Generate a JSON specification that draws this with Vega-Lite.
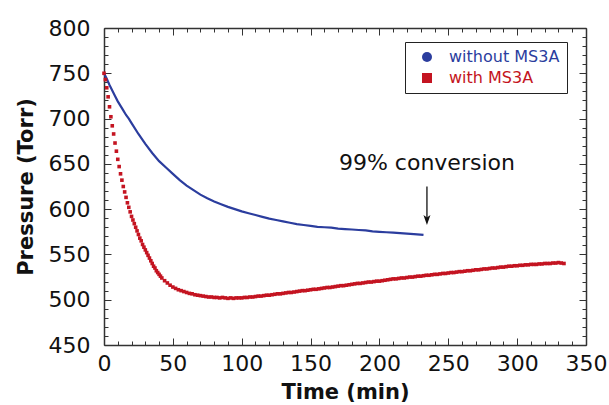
{
  "$schema": "https://vega.github.io/schema/vega-lite/v6.json",
  "width": 482,
  "height": 317,
  "autosize": "none",
  "padding": {"left": 104, "top": 28, "right": 23, "bottom": 60},
  "background": "white",
  "config": {
    "view": {"stroke": null},
    "font": "DejaVu Sans",
    "axis": {
      "domainColor": "#333333",
      "domainWidth": 1.5,
      "tickColor": "#333333",
      "tickWidth": 1,
      "grid": false,
      "labelFont": "DejaVu Sans",
      "labelFontSize": 22,
      "labelColor": "#111111",
      "titleFont": "DejaVu Sans",
      "titleFontSize": 21,
      "titleFontWeight": "bold",
      "titleColor": "#111111",
      "labelFlush": false,
      "labelOverlap": false
    }
  },
  "datasets": {
    "blue": [
      {"t": 0, "p": 750}, {"t": 2, "p": 744}, {"t": 4, "p": 737}, {"t": 6, "p": 731}, {"t": 8, "p": 725},
      {"t": 10, "p": 719}, {"t": 12, "p": 714}, {"t": 14, "p": 709}, {"t": 16, "p": 704}, {"t": 18, "p": 700},
      {"t": 20, "p": 695}, {"t": 25, "p": 683}, {"t": 30, "p": 672}, {"t": 35, "p": 662}, {"t": 40, "p": 653},
      {"t": 45, "p": 646}, {"t": 50, "p": 639}, {"t": 55, "p": 632}, {"t": 60, "p": 626}, {"t": 65, "p": 621},
      {"t": 70, "p": 616}, {"t": 75, "p": 612}, {"t": 80, "p": 608.5}, {"t": 85, "p": 605.5}, {"t": 90, "p": 602.5},
      {"t": 95, "p": 600}, {"t": 100, "p": 597.5}, {"t": 105, "p": 595.5}, {"t": 110, "p": 593.5}, {"t": 115, "p": 591.5},
      {"t": 120, "p": 589.5}, {"t": 125, "p": 588}, {"t": 130, "p": 586.5}, {"t": 135, "p": 585}, {"t": 140, "p": 583.5},
      {"t": 145, "p": 582.5}, {"t": 150, "p": 581.5}, {"t": 155, "p": 580.5}, {"t": 160, "p": 580}, {"t": 165, "p": 579.5},
      {"t": 170, "p": 578.5}, {"t": 175, "p": 578}, {"t": 180, "p": 577.5}, {"t": 185, "p": 577}, {"t": 190, "p": 576.5},
      {"t": 195, "p": 575.5}, {"t": 200, "p": 575}, {"t": 205, "p": 574.5}, {"t": 210, "p": 574}, {"t": 215, "p": 573.5},
      {"t": 220, "p": 573}, {"t": 225, "p": 572.5}, {"t": 232, "p": 571.5}
    ],
    "red": [
      {"t": 0, "p": 750}, {"t": 1, "p": 743}, {"t": 2, "p": 734}, {"t": 3, "p": 724}, {"t": 4, "p": 713},
      {"t": 5, "p": 702}, {"t": 6, "p": 692}, {"t": 7, "p": 683}, {"t": 8, "p": 673}, {"t": 9, "p": 664},
      {"t": 10, "p": 655}, {"t": 11, "p": 647}, {"t": 12, "p": 639}, {"t": 13, "p": 632}, {"t": 14, "p": 625},
      {"t": 15, "p": 619}, {"t": 16, "p": 613}, {"t": 17, "p": 607}, {"t": 18, "p": 602}, {"t": 19, "p": 597},
      {"t": 20, "p": 592}, {"t": 21, "p": 588}, {"t": 22, "p": 584}, {"t": 23, "p": 580}, {"t": 24, "p": 576},
      {"t": 25, "p": 572}, {"t": 26, "p": 568}, {"t": 27, "p": 565}, {"t": 28, "p": 561}, {"t": 29, "p": 558},
      {"t": 30, "p": 555}, {"t": 31, "p": 552}, {"t": 32, "p": 549}, {"t": 33, "p": 546}, {"t": 34, "p": 543},
      {"t": 35, "p": 540}, {"t": 36, "p": 537}, {"t": 37, "p": 535}, {"t": 38, "p": 532}, {"t": 39, "p": 530},
      {"t": 40, "p": 528}, {"t": 41, "p": 526}, {"t": 42, "p": 524}, {"t": 44, "p": 521}, {"t": 46, "p": 518.5},
      {"t": 48, "p": 516}, {"t": 50, "p": 514}, {"t": 52, "p": 512.5}, {"t": 54, "p": 511}, {"t": 56, "p": 510},
      {"t": 58, "p": 509}, {"t": 60, "p": 508}, {"t": 62, "p": 507}, {"t": 64, "p": 506.5}, {"t": 66, "p": 505.5},
      {"t": 68, "p": 505}, {"t": 70, "p": 504.5}, {"t": 72, "p": 504}, {"t": 74, "p": 503.5}, {"t": 76, "p": 503},
      {"t": 78, "p": 503}, {"t": 80, "p": 502.5}, {"t": 82, "p": 502.5}, {"t": 84, "p": 502}, {"t": 86, "p": 502.5},
      {"t": 88, "p": 502}, {"t": 90, "p": 501.5}, {"t": 92, "p": 502}, {"t": 94, "p": 501.5}, {"t": 96, "p": 502},
      {"t": 98, "p": 502}, {"t": 100, "p": 502}, {"t": 102, "p": 502.5}, {"t": 104, "p": 502.5}, {"t": 106, "p": 503},
      {"t": 108, "p": 503}, {"t": 110, "p": 503.5}, {"t": 112, "p": 504}, {"t": 114, "p": 504}, {"t": 116, "p": 504.5},
      {"t": 118, "p": 505}, {"t": 120, "p": 505}, {"t": 122, "p": 505.5}, {"t": 124, "p": 506}, {"t": 126, "p": 506.5},
      {"t": 128, "p": 506.5}, {"t": 130, "p": 507}, {"t": 132, "p": 507.5}, {"t": 134, "p": 508}, {"t": 136, "p": 508},
      {"t": 138, "p": 508.5}, {"t": 140, "p": 509}, {"t": 142, "p": 509.5}, {"t": 144, "p": 510}, {"t": 146, "p": 510},
      {"t": 148, "p": 510.5}, {"t": 150, "p": 511}, {"t": 152, "p": 511.5}, {"t": 154, "p": 511.5}, {"t": 156, "p": 512},
      {"t": 158, "p": 512.5}, {"t": 160, "p": 513}, {"t": 162, "p": 513.5}, {"t": 164, "p": 513.5}, {"t": 166, "p": 514},
      {"t": 168, "p": 514.5}, {"t": 170, "p": 515}, {"t": 172, "p": 515.5}, {"t": 174, "p": 515.5}, {"t": 176, "p": 516},
      {"t": 178, "p": 516.5}, {"t": 180, "p": 517}, {"t": 182, "p": 517.5}, {"t": 184, "p": 518}, {"t": 186, "p": 518},
      {"t": 188, "p": 518.5}, {"t": 190, "p": 519}, {"t": 192, "p": 519.5}, {"t": 194, "p": 519.5}, {"t": 196, "p": 520},
      {"t": 198, "p": 520.5}, {"t": 200, "p": 520.5}, {"t": 202, "p": 521}, {"t": 204, "p": 521.5}, {"t": 206, "p": 522},
      {"t": 208, "p": 522.5}, {"t": 210, "p": 523}, {"t": 212, "p": 523}, {"t": 214, "p": 523.5}, {"t": 216, "p": 524},
      {"t": 218, "p": 524}, {"t": 220, "p": 524.5}, {"t": 222, "p": 525}, {"t": 224, "p": 525}, {"t": 226, "p": 525.5},
      {"t": 228, "p": 526}, {"t": 230, "p": 526}, {"t": 232, "p": 526.5}, {"t": 234, "p": 527}, {"t": 236, "p": 527},
      {"t": 238, "p": 527.5}, {"t": 240, "p": 528}, {"t": 242, "p": 528}, {"t": 244, "p": 528.5}, {"t": 246, "p": 529},
      {"t": 248, "p": 529}, {"t": 250, "p": 529.5}, {"t": 252, "p": 530}, {"t": 254, "p": 530}, {"t": 256, "p": 530.5},
      {"t": 258, "p": 531}, {"t": 260, "p": 531}, {"t": 262, "p": 531.5}, {"t": 264, "p": 532}, {"t": 266, "p": 532},
      {"t": 268, "p": 532.5}, {"t": 270, "p": 533}, {"t": 272, "p": 533}, {"t": 274, "p": 533.5}, {"t": 276, "p": 534},
      {"t": 278, "p": 534}, {"t": 280, "p": 534.5}, {"t": 282, "p": 535}, {"t": 284, "p": 535}, {"t": 286, "p": 535.5},
      {"t": 288, "p": 536}, {"t": 290, "p": 536}, {"t": 292, "p": 536.5}, {"t": 294, "p": 537}, {"t": 296, "p": 537},
      {"t": 298, "p": 537.5}, {"t": 300, "p": 537.5}, {"t": 302, "p": 538}, {"t": 304, "p": 538}, {"t": 306, "p": 538.5},
      {"t": 308, "p": 538.5}, {"t": 310, "p": 539}, {"t": 312, "p": 539}, {"t": 314, "p": 539}, {"t": 316, "p": 539.5},
      {"t": 318, "p": 539.5}, {"t": 320, "p": 540}, {"t": 322, "p": 540}, {"t": 324, "p": 540}, {"t": 326, "p": 540.5},
      {"t": 328, "p": 540.5}, {"t": 330, "p": 541}, {"t": 332, "p": 540.5}, {"t": 334, "p": 540}
    ],
    "note": [
      {"t": 234.5, "p": 643, "ptop": 625, "pbot": 590, "ptip": 588, "label": "99% conversion"}
    ]
  },
  "layer": [
    {
      "data": {"name": "blue"},
      "mark": {"type": "line", "color": "#2b3d9e", "strokeWidth": 2.2},
      "encoding": {
        "x": {
          "field": "t", "type": "quantitative",
          "scale": {"domain": [0, 350], "nice": false, "zero": false},
          "axis": {
            "orient": "top", "title": null, "labels": false,
            "values": [0,10,20,30,40,50,60,70,80,90,100,110,120,130,140,150,160,170,180,190,200,210,220,230,240,250,260,270,280,290,300,310,320,330,340,350],
            "tickSize": {"condition": {"test": "datum.value % 50 === 0", "value": -7}, "value": -4}
          }
        },
        "y": {
          "field": "p", "type": "quantitative",
          "scale": {"domain": [450, 800], "nice": false, "zero": false},
          "axis": {
            "orient": "right", "title": null, "labels": false,
            "values": [450,460,470,480,490,500,510,520,530,540,550,560,570,580,590,600,610,620,630,640,650,660,670,680,690,700,710,720,730,740,750,760,770,780,790,800],
            "tickSize": {"condition": {"test": "datum.value % 50 === 0", "value": -7}, "value": -4}
          }
        }
      }
    },
    {
      "data": {"name": "red"},
      "mark": {"type": "point", "filled": true, "size": 13, "opacity": 1, "color": "#c41421", "shape": "square"},
      "encoding": {
        "x": {
          "field": "t", "type": "quantitative",
          "scale": {"domain": [0, 350], "nice": false, "zero": false},
          "axis": {
            "orient": "bottom", "title": "Time (min)",
            "values": [0,10,20,30,40,50,60,70,80,90,100,110,120,130,140,150,160,170,180,190,200,210,220,230,240,250,260,270,280,290,300,310,320,330,340,350],
            "labelExpr": "datum.value % 50 === 0 ? datum.label : ''",
            "tickSize": {"condition": {"test": "datum.value % 50 === 0", "value": -7}, "value": -4},
            "labelPadding": 15,
            "titlePadding": 4
          }
        },
        "y": {
          "field": "p", "type": "quantitative",
          "scale": {"domain": [450, 800], "nice": false, "zero": false},
          "axis": {
            "orient": "left", "title": "Pressure (Torr)",
            "values": [450,460,470,480,490,500,510,520,530,540,550,560,570,580,590,600,610,620,630,640,650,660,670,680,690,700,710,720,730,740,750,760,770,780,790,800],
            "labelExpr": "datum.value % 50 === 0 ? datum.label : ''",
            "tickSize": {"condition": {"test": "datum.value % 50 === 0", "value": -7}, "value": -4},
            "labelPadding": 21,
            "titlePadding": 12
          }
        }
      }
    },
    {
      "data": {"values": []},
      "mark": {"type": "point", "filled": true, "size": 60, "opacity": 1},
      "encoding": {
        "color": {
          "datum": "with MS3A", "type": "nominal",
          "scale": {"domain": ["without MS3A", "with MS3A"], "range": ["#2b3d9e", "#c41421"]},
          "legend": {
            "orient": "none", "legendX": 301, "legendY": 14, "title": null,
            "strokeColor": "#222222", "fillColor": "white", "padding": 7,
            "symbolOffset": 7, "labelOffset": 14,
            "labelFont": "DejaVu Sans", "labelFontSize": 16, "rowPadding": 5,
            "labelColor": {"expr": "datum.label === 'with MS3A' ? '#c41421' : '#2b3d9e'"}
          }
        },
        "shape": {
          "datum": "with MS3A", "type": "nominal",
          "scale": {"domain": ["without MS3A", "with MS3A"], "range": ["circle", "square"]},
          "legend": {
            "orient": "none", "legendX": 301, "legendY": 14, "title": null,
            "strokeColor": "#222222", "fillColor": "white", "padding": 7,
            "symbolOffset": 7, "labelOffset": 14,
            "labelFont": "DejaVu Sans", "labelFontSize": 16, "rowPadding": 5,
            "labelColor": {"expr": "datum.label === 'with MS3A' ? '#c41421' : '#2b3d9e'"}
          }
        }
      }
    },
    {
      "data": {"name": "note"},
      "mark": {"type": "text", "font": "DejaVu Sans", "fontSize": 22, "align": "center", "baseline": "alphabetic", "color": "#111111"},
      "encoding": {
        "x": {"field": "t", "type": "quantitative", "axis": null},
        "y": {"field": "p", "type": "quantitative", "axis": null},
        "text": {"field": "label"}
      }
    },
    {
      "data": {"name": "note"},
      "mark": {"type": "rule", "color": "#111111", "strokeWidth": 1.3},
      "encoding": {
        "x": {"field": "t", "type": "quantitative", "axis": null},
        "y": {"field": "ptop", "type": "quantitative", "axis": null},
        "y2": {"field": "pbot"}
      }
    },
    {
      "data": {"name": "note"},
      "mark": {"type": "point", "filled": true, "color": "#111111", "opacity": 1, "size": 100, "shape": "M-0.7,-1L0,1L0.7,-1L0,-0.5Z"},
      "encoding": {
        "x": {"field": "t", "type": "quantitative", "axis": null},
        "y": {"field": "ptip", "type": "quantitative", "axis": null}
      }
    }
  ],
  "resolve": {"axis": {"x": "independent", "y": "independent"}}
}
